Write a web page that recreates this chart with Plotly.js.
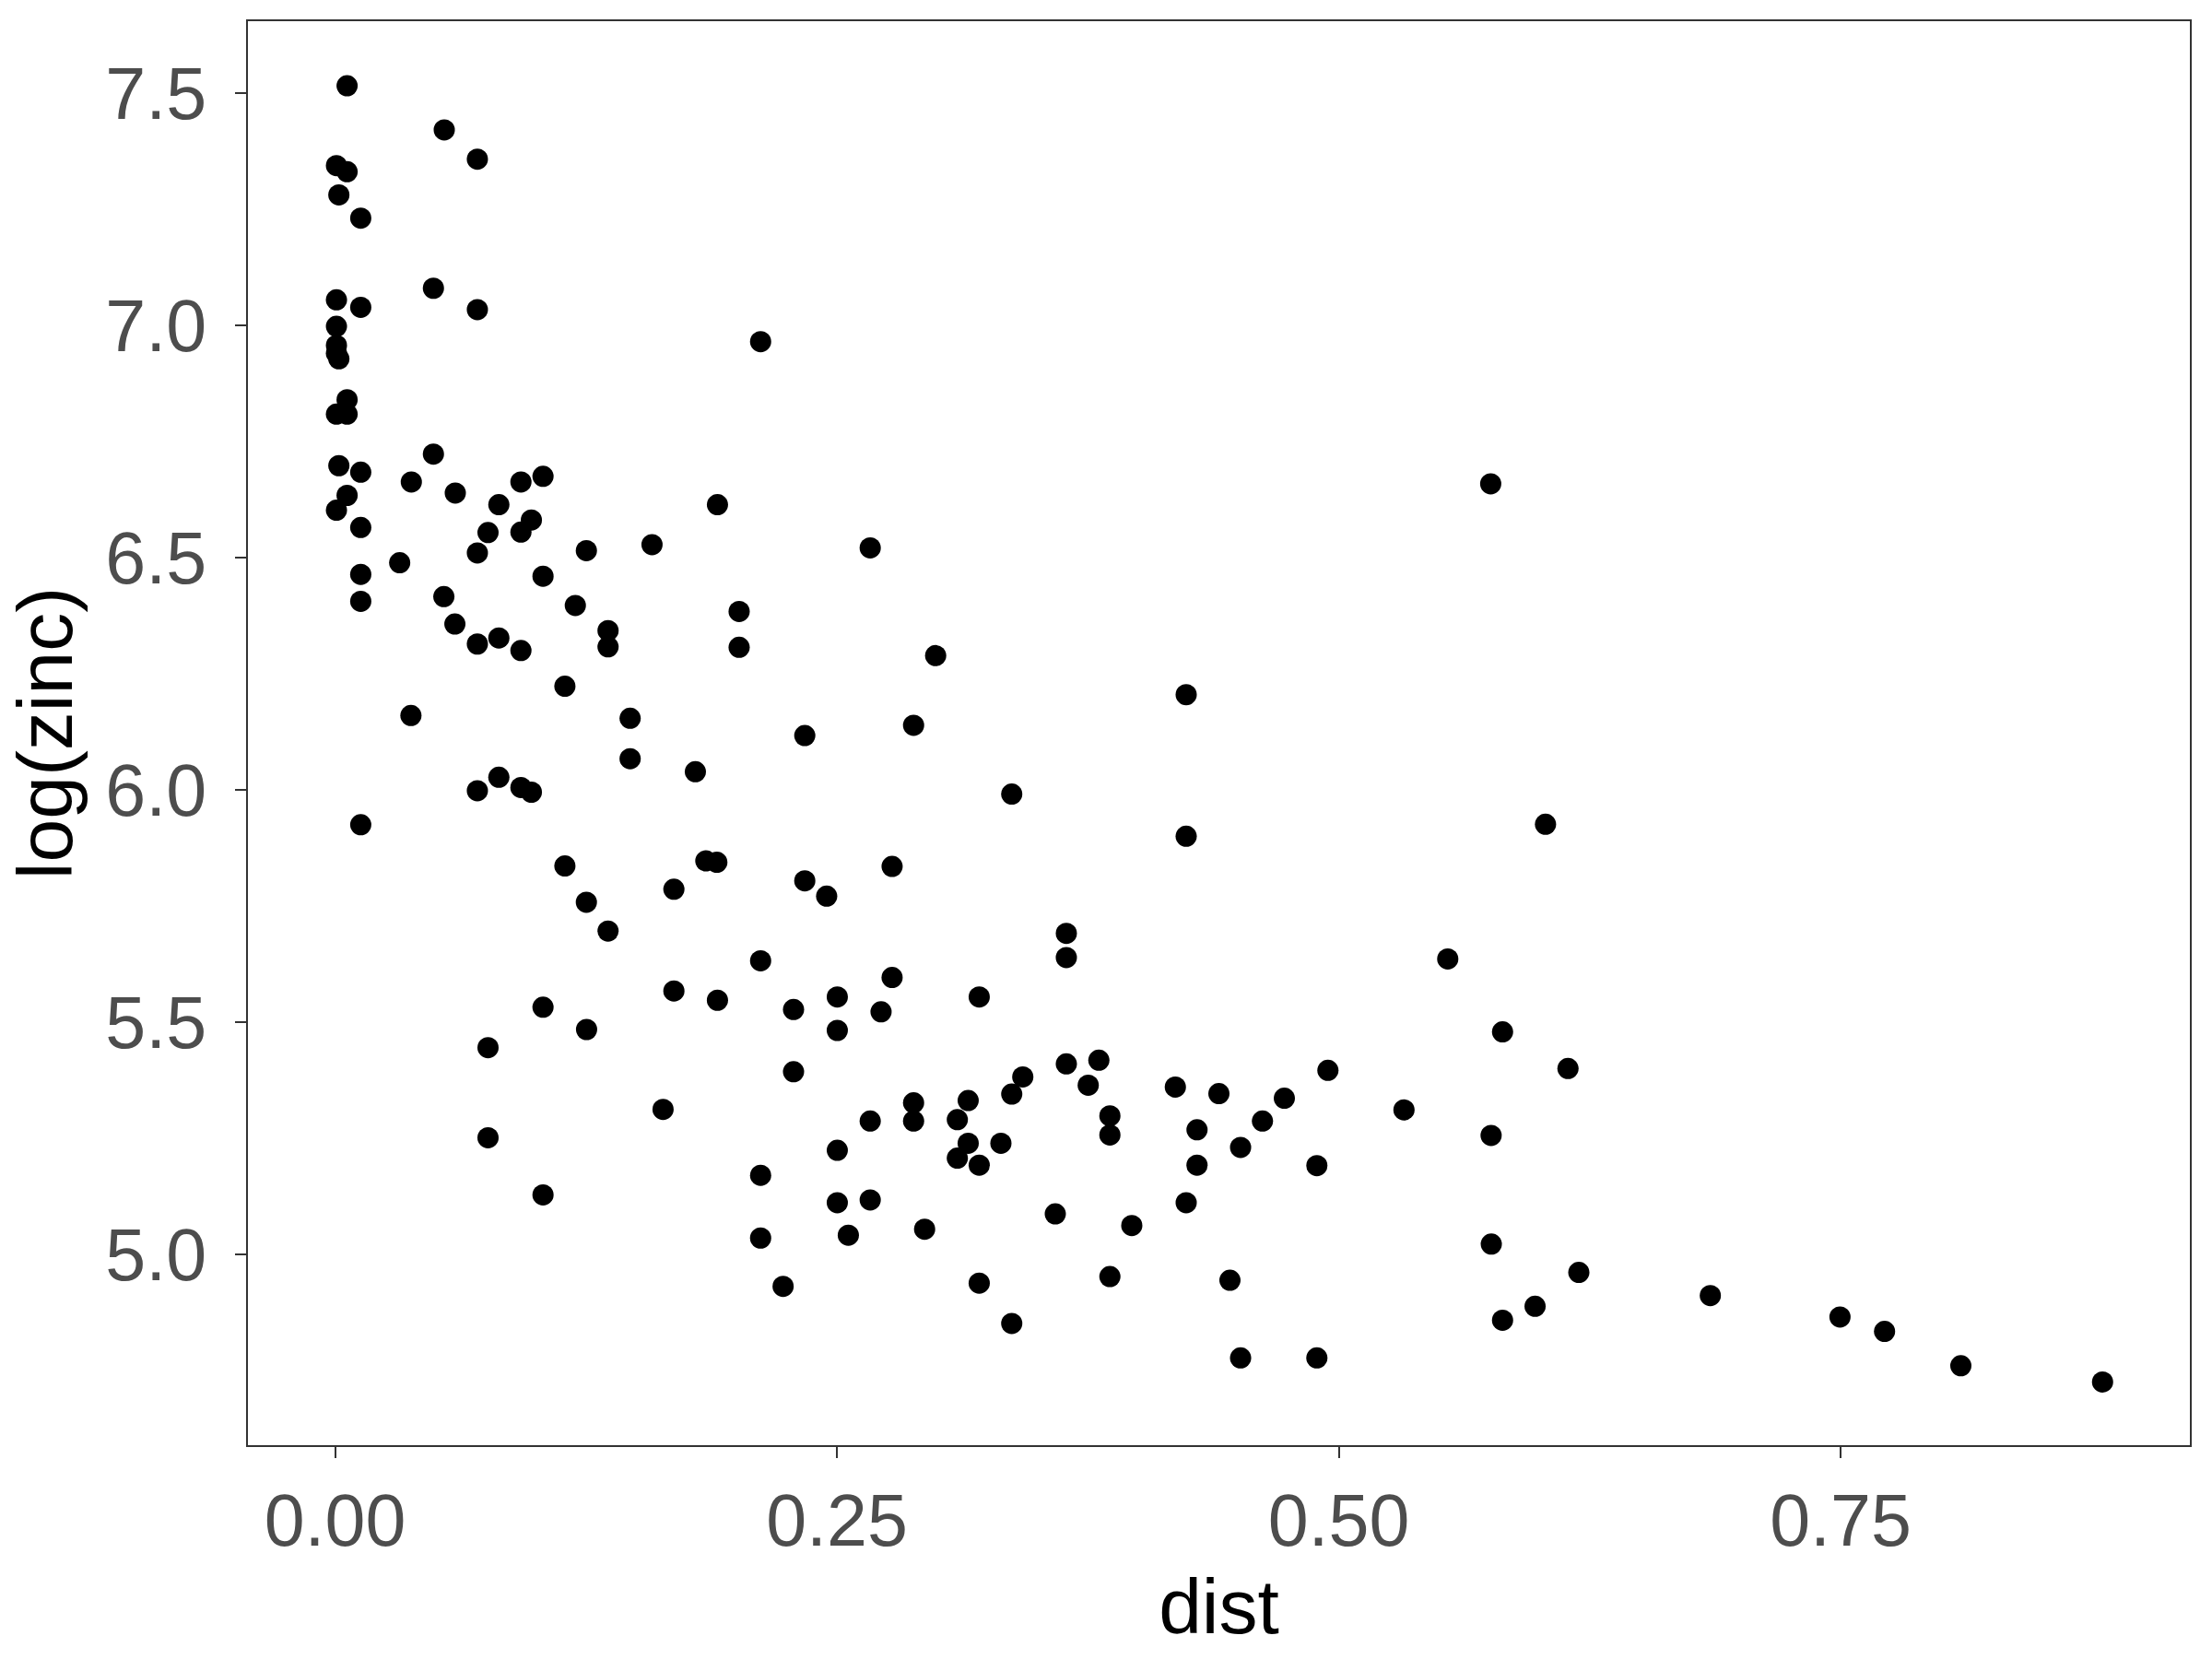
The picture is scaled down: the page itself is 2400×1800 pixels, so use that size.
<!DOCTYPE html>
<html>
<head>
<meta charset="utf-8">
<script src="https://cdn.plot.ly/plotly-3.0.1.min.js"></script>
<style>
  html, body { margin: 0; padding: 0; background: #ffffff; }
  #chart { width: 2400px; height: 1800px; }
</style>
</head>
<body>
<div id="chart"></div>
<script>
// distance to river (normalised)
const dist = [
  0.006, 0.0007, 0.006, 0.0019, 0.0128, 0.0007, 0.0128, 0.0007, 0.0007, 0.0007,
  0.0019, 0.006, 0.0007, 0.006, 0.0019, 0.0128, 0.006, 0.0007, 0.0128, 0.0128,
  0.0128, 0.0128,
  0.0544, 0.0709, 0.049, 0.0709, 0.212, 0.049, 0.038, 0.0599, 0.0816, 0.0926,
  0.1036, 0.1905, 0.0978, 0.0926, 0.0762, 0.0709, 0.1252, 0.1579, 0.0322, 0.1036,
  0.0542, 0.1197, 0.2013, 0.0597, 0.136, 0.136, 0.2013, 0.0709, 0.0816, 0.0926,
  0.1145, 0.0378, 0.147, 0.147, 0.1795, 0.0816, 0.0709, 0.0926, 0.0978, 0.1145,
  0.1847, 0.1902, 0.1688, 0.1252, 0.136, 0.212, 0.1688, 0.1905, 0.1036, 0.1253,
  0.0762, 0.1634, 0.0762, 0.212, 0.1036, 0.212,
  0.2666, 0.2992, 0.424, 0.2882, 0.234, 0.3371, 0.424, 0.234, 0.2449, 0.2775,
  0.3643, 0.3643, 0.2775, 0.2284, 0.2502, 0.272, 0.2502, 0.3209, 0.2284, 0.3643,
  0.3805, 0.3752, 0.3426, 0.3371, 0.4186, 0.2882, 0.2882, 0.2666, 0.3154, 0.31,
  0.3154, 0.31, 0.3209, 0.3317, 0.386, 0.386, 0.4294, 0.4294, 0.2502, 0.2502,
  0.2666, 0.3588, 0.424, 0.3969, 0.2557, 0.2937, 0.2232, 0.3209, 0.386, 0.3371,
  0.5543, 0.5816, 0.6142, 0.4946, 0.4403, 0.4729, 0.462, 0.5325, 0.5759, 0.4511,
  0.4891, 0.576, 0.6196, 0.5978, 0.5816, 0.4458, 0.4511, 0.4891, 0.6851, 0.7497,
  0.7719, 0.8099, 0.8805, 0.5757, 0.603
];

// log(zinc)
const logZinc = [
  7.516, 7.344, 7.331, 7.281, 7.231, 7.055, 7.039, 6.998, 6.957, 6.940,
  6.928, 6.840, 6.809, 6.809, 6.698, 6.684, 6.634, 6.602, 6.565, 6.464,
  6.406, 5.925,
  7.421, 7.358, 7.080, 7.034, 6.965, 6.723, 6.663, 6.639, 6.614, 6.663,
  6.675, 6.614, 6.581, 6.555, 6.554, 6.510, 6.515, 6.528, 6.489, 6.460,
  6.416, 6.397, 6.384, 6.357, 6.343, 6.308, 6.307, 6.314, 6.327, 6.300,
  6.223, 6.160, 6.154, 6.067, 6.039, 6.027, 5.998, 6.005, 5.995, 5.836,
  5.847, 5.844, 5.786, 5.758, 5.696, 5.632, 5.567, 5.547, 5.532, 5.484,
  5.445, 5.312, 5.251, 5.170, 5.128, 5.035,
  6.521, 6.289, 6.205, 6.139, 6.117, 5.991, 5.900, 5.804, 5.771, 5.835,
  5.691, 5.639, 5.596, 5.527, 5.554, 5.522, 5.482, 5.554, 5.393, 5.410,
  5.418, 5.364, 5.382, 5.345, 5.360, 5.326, 5.287, 5.287, 5.331, 5.290,
  5.239, 5.207, 5.192, 5.239, 5.298, 5.257, 5.268, 5.192, 5.224, 5.111,
  5.117, 5.087, 5.111, 5.062, 5.041, 5.054, 4.931, 4.938, 4.952, 4.851,
  5.636, 5.479, 5.400, 5.396, 5.346, 5.336, 5.287, 5.311, 5.256, 5.230,
  5.191, 5.022, 4.961, 4.888, 4.858, 4.944, 4.777, 4.777, 4.911, 4.865,
  4.834, 4.760, 4.725, 6.659, 5.926
];

const xTicks = [0, 0.25, 0.5, 0.75];
const xTickText = ['0.00', '0.25', '0.50', '0.75'];
const yTicks = [5.0, 5.5, 6.0, 6.5, 7.0, 7.5];
const yTickText = ['5.0', '5.5', '6.0', '6.5', '7.0', '7.5'];

const font = 'Liberation Sans, Arial, Helvetica, sans-serif';

const trace = {
  x: dist,
  y: logZinc,
  type: 'scatter',
  mode: 'markers',
  marker: { color: '#000000', size: 23, line: { width: 0 } },
  hoverinfo: 'x+y'
};

const axisCommon = {
  showgrid: false,
  zeroline: false,
  showline: true,
  mirror: true,
  linecolor: '#333333',
  linewidth: 2,
  ticks: 'outside',
  ticklen: 12,
  tickwidth: 2,
  tickcolor: '#333333',
  tickfont: { family: font, size: 79, color: '#4D4D4D' }
};

const layout = {
  width: 2400,
  height: 1800,
  margin: { l: 269, r: 24, t: 23, b: 232 },
  paper_bgcolor: '#ffffff',
  plot_bgcolor: '#ffffff',
  showlegend: false,
  xaxis: Object.assign({}, axisCommon, {
    range: [-0.0434, 0.924],
    tickvals: xTicks,
    ticktext: xTickText,
    title: { text: 'dist', font: { family: font, size: 84, color: '#000000' }, standoff: 20 }
  }),
  yaxis: Object.assign({}, axisCommon, {
    range: [4.589, 7.655],
    tickvals: yTicks,
    ticktext: yTickText,
    ticklabelstandoff: 15,
    title: { text: 'log(zinc)', font: { family: font, size: 84, color: '#000000' }, standoff: 8 }
  })
};

Plotly.newPlot('chart', [trace], layout, { displayModeBar: false, staticPlot: true });
</script>
</body>
</html>
